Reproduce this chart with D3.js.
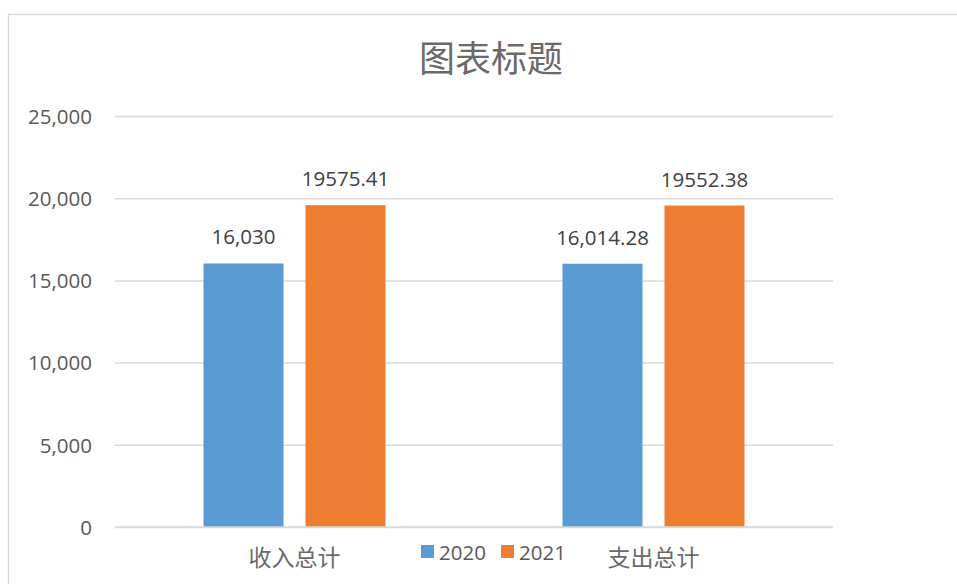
<!DOCTYPE html>
<html>
<head>
  <meta charset="utf-8">
  <title>图表标题</title>
  <style type="text/css">
    html, body { margin: 0; padding: 0; background: #fff; }
    svg { display: block; }
  </style>
  <script src="https://d3js.org/d3.v7.min.js"></script>
</head>
<body>
  <div id="chart"></div>
  <script>
    // 数据
    var categories = ["收入总计", "支出总计"];
    var seriesNames = ["2020", "2021"];
    var values2020 = [16030, 16014.28];
    var values2021 = [19575.41, 19552.38];
    var labels2020 = ["16,030", "16,014.28"];
    var labels2021 = ["19575.41", "19552.38"];
    var yTicks = [0, 5000, 10000, 15000, 20000, 25000];
    var colors = ["#5b9bd5", "#ed7d31"];

    var width = 957, height = 584;
    var plotLeft = 115, plotRight = 833, plotTop = 116, plotBottom = 527;
    var numFont = "'Open Sans', 'Noto Sans', sans-serif";
    var cjkFont = "'Noto Sans CJK SC', sans-serif";

    var svg = d3.select("#chart").append("svg")
      .attr("width", width)
      .attr("height", height);

    // 图表边框
    svg.append("rect")
      .attr("x", 8.5).attr("y", 14.5)
      .attr("width", 1000).attr("height", 700)
      .attr("fill", "none")
      .attr("stroke", "#d9d9d9")
      .attr("stroke-width", 1.5);

    var x0 = d3.scaleBand().domain(categories).range([plotLeft, plotRight]).padding(0);
    var groupW = 182;
    var x1 = d3.scaleBand().domain(seriesNames).range([0, groupW]).paddingInner(22 / 102);
    var y = d3.scaleLinear().domain([0, 25000]).range([plotBottom, plotTop]);

    // 网格线
    var yAxis = d3.axisLeft(y).tickValues(yTicks).tickSize(-(plotRight - plotLeft)).tickFormat(d3.format(","));
    var gy = svg.append("g").attr("transform", "translate(" + plotLeft + ",0)").call(yAxis);
    gy.select(".domain").remove();
    gy.selectAll(".tick line").attr("stroke", "#d9d9d9").attr("stroke-width", 1.5);
    gy.selectAll(".tick text")
      .attr("x", -23)
      .attr("dy", "0.36em")
      .attr("fill", "#595959")
      .attr("font-family", numFont)
      .attr("font-size", 20.5);

    // 柱子
    var rows = categories.map(function (c, i) {
      return [
        { cat: c, s: seriesNames[0], v: values2020[i], label: labels2020[i], color: colors[0] },
        { cat: c, s: seriesNames[1], v: values2021[i], label: labels2021[i], color: colors[1] }
      ];
    });
    var offset = (x0.bandwidth() - groupW) / 2;

    var groups = svg.selectAll(".grp")
      .data(rows)
      .join("g")
      .attr("class", "grp")
      .attr("transform", function (d) { return "translate(" + (x0(d[0].cat) + offset) + ",0)"; });

    groups.selectAll("rect")
      .data(function (d) { return d; })
      .join("rect")
      .attr("x", function (d) { return x1(d.s); })
      .attr("y", function (d) { return y(d.v); })
      .attr("width", x1.bandwidth())
      .attr("height", function (d) { return y(0) - y(d.v); })
      .attr("fill", function (d) { return d.color; });

    groups.selectAll("text")
      .data(function (d) { return d; })
      .join("text")
      .attr("x", function (d) { return x1(d.s) + x1.bandwidth() / 2; })
      .attr("y", function (d) { return y(d.v) - 19; })
      .attr("text-anchor", "middle")
      .attr("fill", "#404040")
      .attr("font-family", numFont)
      .attr("font-size", 20.5)
      .text(function (d) { return d.label; });

    // 横轴
    svg.append("line")
      .attr("x1", plotLeft).attr("x2", plotRight)
      .attr("y1", y(0)).attr("y2", y(0))
      .attr("stroke", "#d9d9d9").attr("stroke-width", 1.5);

    svg.selectAll(".cat")
      .data(categories)
      .join("text")
      .attr("class", "cat")
      .attr("x", function (d) { return x0(d) + x0.bandwidth() / 2; })
      .attr("y", 566)
      .attr("text-anchor", "middle")
      .attr("fill", "#6a6a6a")
      .attr("font-family", cjkFont)
      .attr("font-size", 23)
      .text(function (d) { return d; });

    // 标题
    svg.append("text")
      .attr("x", 491).attr("y", 72)
      .attr("text-anchor", "middle")
      .attr("fill", "#6a6a6a")
      .attr("font-family", cjkFont)
      .attr("font-size", 36)
      .text("图表标题");

    // 图例
    var legendX = [421, 501];
    var lg = svg.selectAll(".legend")
      .data(seriesNames)
      .join("g")
      .attr("class", "legend")
      .attr("transform", function (d, i) { return "translate(" + legendX[i] + ",545)"; });
    lg.append("rect")
      .attr("width", 13).attr("height", 13)
      .attr("fill", function (d, i) { return colors[i]; });
    lg.append("text")
      .attr("x", 18).attr("y", 15)
      .attr("fill", "#595959")
      .attr("font-family", numFont)
      .attr("font-size", 20.5)
      .text(function (d) { return d; });
  </script>
</body>
</html>
